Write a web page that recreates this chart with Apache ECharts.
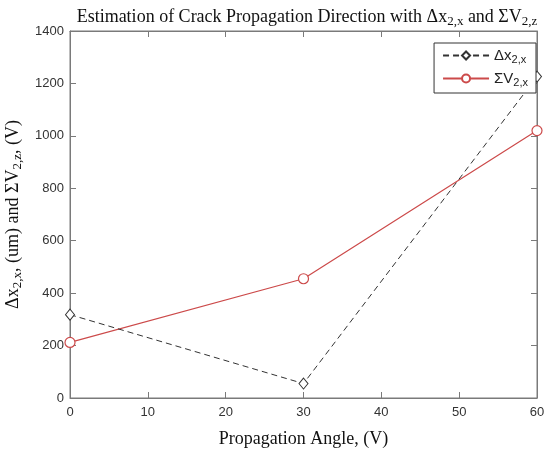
<!DOCTYPE html>
<html>
<head>
<meta charset="utf-8">
<title>Crack Propagation</title>
<script src="https://cdn.jsdelivr.net/npm/echarts@6/dist/echarts.min.js"></script>
<style>
  html, body { margin: 0; padding: 0; background: #fff; }
  #chart { width: 550px; height: 453px; }
</style>
</head>
<body>
<div id="chart"></div>
<script>
var angles = [0, 30, 60];
var dxValues = [318, 55, 1226];
var svValues = [212, 455, 1020];
var xTicks = [0, 10, 20, 30, 40, 50, 60];

var chart = echarts.init(document.getElementById('chart'));

var dxData = angles.map(function (a, i) { return [a, dxValues[i]]; });
var svData = angles.map(function (a, i) { return [a, svValues[i]]; });

var serif = 'Liberation Serif';
var sans = 'Liberation Sans';
var axisGray = '#7a7a7a';

function richText(size) {
  return {
    m: { fontFamily: serif, fontSize: size, color: '#111', fontWeight: 'normal' },
    s: { fontFamily: serif, fontSize: Math.round(size * 0.7), color: '#111', fontWeight: 'normal', padding: [Math.round(size * 0.5), 0, 0, 0] }
  };
}

// box edges: keep the axes on their own side, not on the zero line
var boxLine = { show: true, onZero: false, lineStyle: { color: axisGray } };
var boxTick = { show: true, inside: true, length: 6, lineStyle: { color: axisGray } };

var option = {
  backgroundColor: '#fff',
  animation: false,
  title: {
    text: '{m|Estimation of Crack Propagation Direction with Δx}{s|2,x}{m| and ΣV}{s|2,z}',
    left: 302,
    textAlign: 'center',
    top: 1,
    textStyle: { fontWeight: 'normal', rich: richText(18) }
  },
  grid: {
    left: 70, right: 13, top: 31, bottom: 55,
    outerBoundsMode: 'none',
    containLabel: false,
    show: true, borderColor: axisGray, borderWidth: 1
  },
  legend: {
    right: 14,
    top: 43,
    orient: 'vertical',
    backgroundColor: '#fff',
    borderColor: '#333',
    borderWidth: 1,
    borderRadius: 0,
    padding: [5, 8, 5, 8],
    itemGap: 6,
    itemWidth: 46,
    itemHeight: 10,
    data: ['dx', 'sv'],
    formatter: function (name) {
      return name === 'dx' ? '{m|Δx}{s|2,x}' : '{m|ΣV}{s|2,x}';
    },
    textStyle: {
      rich: {
        m: { fontFamily: sans, fontSize: 15, color: '#222' },
        s: { fontFamily: sans, fontSize: 11, color: '#222', padding: [8, 0, 0, 0] }
      }
    }
  },
  xAxis: [{
    type: 'value',
    min: 0, max: 60, interval: 10,
    name: 'Propagation Angle, (V)',
    nameLocation: 'middle',
    nameGap: 32,
    nameTextStyle: { fontFamily: serif, fontSize: 18, color: '#111' },
    axisLine: boxLine,
    axisTick: boxTick,
    axisLabel: {
      fontFamily: sans, fontSize: 13, color: '#333', margin: 8,
      formatter: function (v) { return xTicks.indexOf(v) >= 0 ? String(v) : ''; }
    },
    splitLine: { show: false }
  }, {
    type: 'value', position: 'top',
    min: 0, max: 60, interval: 10,
    axisLine: boxLine,
    axisTick: boxTick,
    axisLabel: { show: false },
    splitLine: { show: false }
  }],
  yAxis: [{
    type: 'value',
    min: 0, max: 1400, interval: 200,
    name: '{m|Δx}{s|2,x}{m|, (um) and ΣV}{s|2,z}{m|, (V)}',
    nameLocation: 'middle',
    nameGap: 46,
    nameTextStyle: { rich: richText(18) },
    axisLine: boxLine,
    axisTick: boxTick,
    axisLabel: {
      fontFamily: sans, fontSize: 13, color: '#333', margin: 6,
      formatter: function (v) { return String(v); }
    },
    splitLine: { show: false }
  }, {
    type: 'value', position: 'right',
    min: 0, max: 1400, interval: 200,
    axisLine: boxLine,
    axisTick: boxTick,
    axisLabel: { show: false },
    splitLine: { show: false }
  }],
  series: [{
    name: 'dx',
    type: 'line',
    data: dxData,
    symbol: 'diamond',
    symbolSize: [9, 11],
    lineStyle: { color: '#333', width: 1, type: [6, 4] },
    itemStyle: { color: '#fff', borderColor: '#333', borderWidth: 1 },
    z: 3
  }, {
    name: 'sv',
    type: 'line',
    data: svData,
    symbol: 'circle',
    symbolSize: 10,
    lineStyle: { color: '#cc4a4a', width: 1.2 },
    itemStyle: { color: '#fff', borderColor: '#cc4a4a', borderWidth: 1.2 },
    z: 2
  }]
};

chart.setOption(option);
</script>
</body>
</html>
